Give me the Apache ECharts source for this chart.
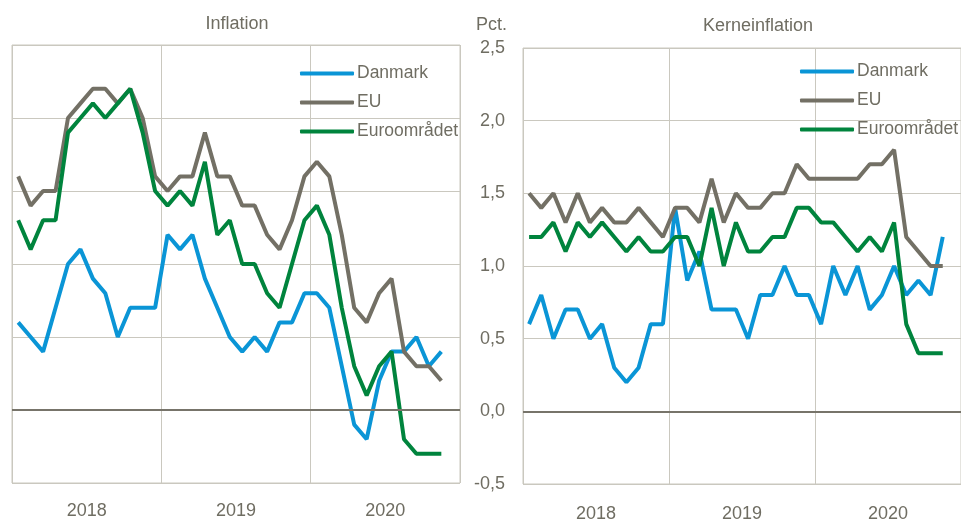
<!DOCTYPE html>
<html>
<head>
<meta charset="utf-8">
<script src="https://cdn.jsdelivr.net/npm/echarts@6/dist/echarts.min.js"></script>
<style>
  html, body { margin: 0; padding: 0; background: #fff; }
  #chart { width: 961px; height: 523px; }
</style>
</head>
<body>
<div id="chart"></div>
<script>
// months Jan 2018 - Dec 2020, data runs to Nov 2020
var years = ['2018', '2019', '2020'];
var months = [];
years.forEach(function (y) {
    for (var m = 1; m <= 12; m++) months.push(y + '-' + (m < 10 ? '0' + m : m));
});

// Inflation (left)
var inflDanmark = [0.6,0.5,0.4,0.7,1.0,1.1,0.9,0.8,0.5,0.7,0.7,0.7,1.2,1.1,1.2,0.9,0.7,0.5,0.4,0.5,0.4,0.6,0.6,0.8,0.8,0.7,0.3,-0.1,-0.2,0.2,0.4,0.4,0.5,0.3,0.4];
var inflEU      = [1.6,1.4,1.5,1.5,2.0,2.1,2.2,2.2,2.1,2.2,2.0,1.6,1.5,1.6,1.6,1.9,1.6,1.6,1.4,1.4,1.2,1.1,1.3,1.6,1.7,1.6,1.2,0.7,0.6,0.8,0.9,0.4,0.3,0.3,0.2];
var inflEuro    = [1.3,1.1,1.3,1.3,1.9,2.0,2.1,2.0,2.1,2.2,1.9,1.5,1.4,1.5,1.4,1.7,1.2,1.3,1.0,1.0,0.8,0.7,1.0,1.3,1.4,1.2,0.7,0.3,0.1,0.3,0.4,-0.2,-0.3,-0.3,-0.3];

// Kerneinflation (right)
var coreDanmark = [0.6,0.8,0.5,0.7,0.7,0.5,0.6,0.3,0.2,0.3,0.6,0.6,1.4,0.9,1.1,0.7,0.7,0.7,0.5,0.8,0.8,1.0,0.8,0.8,0.6,1.0,0.8,1.0,0.7,0.8,1.0,0.8,0.9,0.8,1.2];
var coreEU      = [1.5,1.4,1.5,1.3,1.5,1.3,1.4,1.3,1.3,1.4,1.3,1.2,1.4,1.4,1.3,1.6,1.3,1.5,1.4,1.4,1.5,1.5,1.7,1.6,1.6,1.6,1.6,1.6,1.7,1.7,1.8,1.2,1.1,1.0,1.0];
var coreEuro    = [1.2,1.2,1.3,1.1,1.3,1.2,1.3,1.2,1.1,1.2,1.1,1.1,1.2,1.2,1.0,1.4,1.0,1.3,1.1,1.1,1.2,1.2,1.4,1.4,1.3,1.3,1.2,1.1,1.2,1.1,1.3,0.6,0.4,0.4,0.4];

var seriesNames = ['Danmark', 'EU', 'Euroområdet'];
var colors = ['#0a95d6', '#737065', '#00843d'];
var textColor = '#6f6d62';
var gridColor = '#cac8bf';
var font = '"Liberation Sans", Arial, sans-serif';
var fs = 18;

function yearAxis(gi, margin) {
    return {
        type: 'category', gridIndex: gi, data: years, position: 'bottom',
        boundaryGap: true,
        axisLine: {show: false}, axisTick: {show: false},
        axisLabel: {color: textColor, fontSize: fs, fontFamily: font, margin: margin},
        splitLine: {show: true, lineStyle: {color: gridColor, width: 1}}
    };
}
function monthAxis(gi) {
    return {type: 'category', gridIndex: gi, data: months, position: 'top', boundaryGap: true, show: false};
}
function valAxis(gi, labels) {
    return {
        type: 'value', gridIndex: gi, min: -0.5, max: 2.5, interval: 0.5,
        axisLine: {show: false}, axisTick: {show: false},
        axisLabel: {
            show: labels, color: textColor, fontSize: fs, fontFamily: font, margin: 18,
            padding: [2, 0, 0, 0],
            formatter: function (v) { return v.toFixed(1).replace('.', ','); }
        },
        splitLine: {show: true, lineStyle: {color: gridColor, width: 1}}
    };
}
function line(name, data, gi, idx) {
    var s = {
        name: name, type: 'line', data: data,
        xAxisIndex: gi * 2 + 1, yAxisIndex: gi,
        symbol: 'none', showSymbol: false,
        lineStyle: {color: colors[idx], width: 4},
        itemStyle: {color: colors[idx]}
    };
    if (idx === 0) {
        s.markLine = {
            silent: true, symbol: 'none', label: {show: false},
            lineStyle: {color: '#77746a', width: 2, type: 'solid'},
            data: [{yAxis: 0}]
        };
    }
    return s;
}
function legend(left, top) {
    return {
        orient: 'vertical', left: left, top: top, padding: 0,
        icon: 'roundRect', itemWidth: 54, itemHeight: 4, itemGap: 8,
        textStyle: {color: textColor, fontSize: 17.5, lineHeight: 21, fontFamily: font, padding: [0, 0, 0, -2]},
        data: seriesNames
    };
}

option = {
    animation: false,
    backgroundColor: '#fff',
    title: [
        {text: 'Inflation', left: 237, top: 15, textAlign: 'center', padding: 0,
         textStyle: {color: textColor, fontSize: fs, fontWeight: 'normal', fontFamily: font}},
        {text: 'Kerneinflation', left: 758, top: 17, textAlign: 'center', padding: 0,
         textStyle: {color: textColor, fontSize: fs, fontWeight: 'normal', fontFamily: font}},
        {text: 'Pct.', left: 507, top: 16, textAlign: 'right', padding: 0,
         textStyle: {color: textColor, fontSize: fs, fontWeight: 'normal', fontFamily: font}}
    ],
    legend: [legend(300, 63), legend(800, 61)],
    grid: [
        {left: 12, top: 45, width: 448, height: 438, show: true, borderColor: gridColor, borderWidth: 1},
        {left: 523, top: 48, width: 449, height: 437, show: true, borderColor: gridColor, borderWidth: 1}
    ],
    xAxis: [yearAxis(0, 19), monthAxis(0), yearAxis(1, 21), monthAxis(1)],
    yAxis: [valAxis(0, false), valAxis(1, true)],
    series: [
        line('Danmark', inflDanmark, 0, 0),
        line('EU', inflEU, 0, 1),
        line('Euroområdet', inflEuro, 0, 2),
        line('Danmark', coreDanmark, 1, 0),
        line('EU', coreEU, 1, 1),
        line('Euroområdet', coreEuro, 1, 2)
    ]
};

var myChart = echarts.init(document.getElementById('chart'));
myChart.setOption(option);
</script>
</body>
</html>
